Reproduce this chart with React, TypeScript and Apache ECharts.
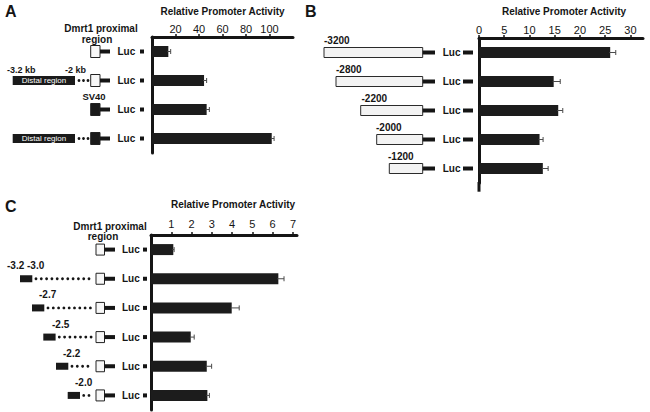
import React, { useEffect, useRef } from 'react';
import * as echarts from 'echarts';

// ---------- Data ----------
// Panel A
const catsA = ['Dmrt1 proximal', 'Distal + Dmrt1 proximal', 'SV40', 'Distal + SV40'];
const valuesA = [13.9, 44.3, 46.5, 101.9];
const errorsA = [2.0, 2.2, 2.3, 2.0];
const ticksA = [20, 40, 60, 80, 100];

// Panel B
const catsB = ['-3200', '-2800', '-2200', '-2000', '-1200'];
const valuesB = [26.0, 14.8, 15.7, 12.0, 12.65];
const errorsB = [1.1, 1.3, 0.9, 0.7, 1.05];
const ticksB = [0, 5, 10, 15, 20, 25, 30];

// Panel C
const catsC = ['Dmrt1 proximal only', '-3.2 -3.0', '-2.7', '-2.5', '-2.2', '-2.0'];
const valuesC = [1.1, 6.28, 3.98, 1.96, 2.75, 2.78];
const errorsC = [0.04, 0.28, 0.37, 0.17, 0.24, 0.1];
const ticksC = [1, 2, 3, 4, 5, 6, 7];

const axisName = 'Relative Promoter Activity';

// ---------- Layout (decoration) ----------
const FONT = '"Liberation Sans", Arial, Helvetica, sans-serif';
const INK = '#151515';
const BAR = '#1c1c1c';
const boxLeftB = [324, 336, 360.7, 376.7, 389.3];
const labelLeftB = [324, 336, 361.5, 376, 388];
const rectLeftC = [0, 20, 32, 43.3, 56, 67.7];
const labelLeftC = [0, 7, 39, 52, 63, 75];

function xAxisCfg(grid: number, max: number, interval: number, ticks: number[], nameGap: number, labelMargin: number, namePad: number[]) {
  return {
    type: 'value',
    gridIndex: grid,
    position: 'top',
    min: 0,
    max,
    interval,
    name: axisName,
    nameLocation: 'middle',
    nameGap,
    nameTextStyle: { fontFamily: FONT, fontWeight: 'bold', fontSize: 10, color: INK, padding: namePad },
    axisLine: { show: true, lineStyle: { color: INK, width: 3 } },
    axisTick: { show: true, length: 3, customValues: ticks, lineStyle: { color: INK, width: 1.5 } },
    axisLabel: { show: true, customValues: ticks, fontFamily: FONT, fontSize: 11, color: INK, margin: labelMargin },
    splitLine: { show: false },
  };
}

function yAxisCfg(grid: number, cats: string[]) {
  return {
    type: 'category',
    gridIndex: grid,
    inverse: true,
    data: cats,
    axisLine: { show: true, lineStyle: { color: INK, width: 3 } },
    axisTick: { show: false },
    axisLabel: { show: false },
    splitLine: { show: false },
  };
}

function errSeries(axis: number, values: number[], errors: number[]) {
  return {
    type: 'custom',
    xAxisIndex: axis,
    yAxisIndex: axis,
    z: 5,
    silent: true,
    encode: { y: 0, x: [1, 2] },
    data: values.map((v, i) => [i, v, v + errors[i]]),
    renderItem: (params: any, api: any) => {
      const idx = api.value(0);
      const p1 = api.coord([api.value(1), idx]);
      const p2 = api.coord([api.value(2), idx]);
      const st = { stroke: '#4a4a4a', lineWidth: 1 };
      return {
        type: 'group',
        children: [
          { type: 'line', shape: { x1: p1[0] - 1, y1: p1[1], x2: p2[0], y2: p2[1] }, style: st },
          { type: 'line', shape: { x1: p2[0], y1: p2[1] - 2.5, x2: p2[0], y2: p2[1] + 2.5 }, style: st },
        ],
      };
    },
  };
}

function barSeries(axis: number, values: number[]) {
  return {
    type: 'bar',
    xAxisIndex: axis,
    yAxisIndex: axis,
    data: values,
    barWidth: 11,
    itemStyle: { color: BAR },
    silent: true,
  };
}

// graphic helpers
const txt = (x: number, y: number, text: string, size: number, opts: any = {}) => ({
  type: 'text',
  x,
  y,
  silent: true,
  style: {
    text,
    fontFamily: FONT,
    fontSize: size,
    fontWeight: opts.weight ?? 'bold',
    fill: opts.fill ?? INK,
    align: opts.align ?? 'left',
    verticalAlign: 'middle',
  },
  z: 10,
});
const rect = (x: number, y: number, w: number, h: number, fill: string, stroke?: string) => ({
  type: 'rect',
  silent: true,
  shape: { x, y, width: w, height: h },
  style: stroke ? { fill, stroke, lineWidth: 1 } : { fill },
  z: 9,
});
const dot = (x: number, y: number) => ({ type: 'circle', silent: true, shape: { cx: x, cy: y, r: 1.4 }, style: { fill: INK }, z: 9 });

export default function App() {
  const ref = useRef<HTMLDivElement>(null);
  useEffect(() => {
    if (!ref.current) return;
    const chart = echarts.init(ref.current, null, { renderer: 'svg', width: 650, height: 412 });
    const option: any = {
      animation: false,
      backgroundColor: '#ffffff',
      grid: [
        { left: 152, top: 37, width: 141, height: 116 },
        { left: 479, top: 38, width: 164, height: 145 },
        { left: 151, top: 235, width: 146, height: 175 },
      ],
      xAxis: [
        xAxisCfg(0, 120, 20, ticksA, 21, 3, [0, 0, 0, 0]),
        xAxisCfg(1, 32.5, 5, ticksB, 22, 3, [0, 0, 0, 6]),
        xAxisCfg(2, 7.2, 1, ticksC, 26, 6, [0, 0, 0, 18]),
      ],
      yAxis: [yAxisCfg(0, catsA), yAxisCfg(1, catsB), yAxisCfg(2, catsC)],
      series: [
        barSeries(0, valuesA),
        errSeries(0, valuesA, errorsA),
        barSeries(1, valuesB),
        errSeries(1, valuesB, errorsB),
        barSeries(2, valuesC),
        errSeries(2, valuesC, errorsC),
      ],
    };
    chart.setOption(option);

    const g: any[] = [];
    // panel letters
    g.push(txt(5, 11, 'A', 16));
    g.push(txt(305, 11, 'B', 16));
    g.push(txt(5, 206, 'C', 16));

    // ---- Panel A diagrams ----
    const yA = catsA.map((c) => chart.convertToPixel({ yAxisIndex: 0 } as any, c) as number);
    g.push(txt(101, 28, 'Dmrt1 proximal', 10, { align: 'center' }));
    g.push(txt(97, 39, 'region', 10, { align: 'center' }));
    yA.forEach((y, i) => {
      const distal = i === 1 || i === 3;
      const sv40 = i >= 2;
      if (distal) {
        g.push(rect(12.7, y - 4.5, 62.3, 9, '#1a1a1a'));
        g.push(txt(44, y, 'Distal region', 8, { weight: 'normal', fill: '#ffffff', align: 'center' }));
        [79, 83.5, 88].forEach((x) => g.push(dot(x, y)));
      }
      g.push(rect(90.7, y - 6, 9.3, 12, sv40 ? '#1a1a1a' : '#f7f7f7', '#222'));
      g.push(rect(100, y - 2, 10, 4, INK));
      g.push(txt(117.5, y, 'Luc', 10));
      g.push(rect(140, y - 2, 4, 4, INK));
    });
    g.push(txt(7, yA[1] - 11, '-3.2 kb', 9));
    g.push(txt(65, yA[1] - 11, '-2 kb', 9));
    g.push(txt(94, yA[2] - 13.5, 'SV40', 9.5, { align: 'center' }));

    // ---- Panel B diagrams ----
    const yB = catsB.map((c) => chart.convertToPixel({ yAxisIndex: 1 } as any, c) as number);
    yB.forEach((y, i) => {
      g.push(rect(boxLeftB[i], y - 5, 422.7 - boxLeftB[i], 10, '#f3f3f3', '#2a2a2a'));
      g.push(rect(422.7, y - 2, 12.3, 4, INK));
      g.push(txt(442.7, y, 'Luc', 10));
      g.push(rect(463, y - 2, 10, 4, INK));
      g.push(txt(labelLeftB[i], y - 12.5, catsB[i], 10));
    });
    // extend panel B vertical axis below last bar
    const axB = chart.convertToPixel({ xAxisIndex: 1 } as any, 0) as number;
    g.push({ type: 'line', silent: true, shape: { x1: axB, y1: 182, x2: axB, y2: 191.7 }, style: { stroke: INK, lineWidth: 3 }, z: 9 });

    // ---- Panel C diagrams ----
    const yC = catsC.map((c) => chart.convertToPixel({ yAxisIndex: 2 } as any, c) as number);
    g.push(txt(110, 226.7, 'Dmrt1 proximal', 10, { align: 'center' }));
    g.push(txt(103, 236.7, 'region', 10, { align: 'center' }));
    yC.forEach((y, i) => {
      if (i > 0) {
        const left = rectLeftC[i];
        g.push(rect(left, y - 3.5, 12.3, 7, '#1a1a1a'));
        for (let x = left + 16; x <= 92.5; x += 5.3) g.push(dot(x, y));
        g.push(txt(labelLeftC[i], y - 13, catsC[i], 10));
      }
      g.push(rect(96, y - 5.5, 8.5, 11, '#f7f7f7', '#222'));
      g.push(rect(104.5, y - 2, 10.5, 4, INK));
      g.push(txt(122, y, 'Luc', 10));
      g.push(rect(143, y - 2, 4, 4, INK));
    });

    chart.setOption({ graphic: { elements: g } });
    return () => chart.dispose();
  }, []);
  return (
    <div
      ref={ref}
      style={{ position: 'absolute', left: 0, top: 0, width: 650, height: 412, background: '#fff' }}
    />
  );
}
